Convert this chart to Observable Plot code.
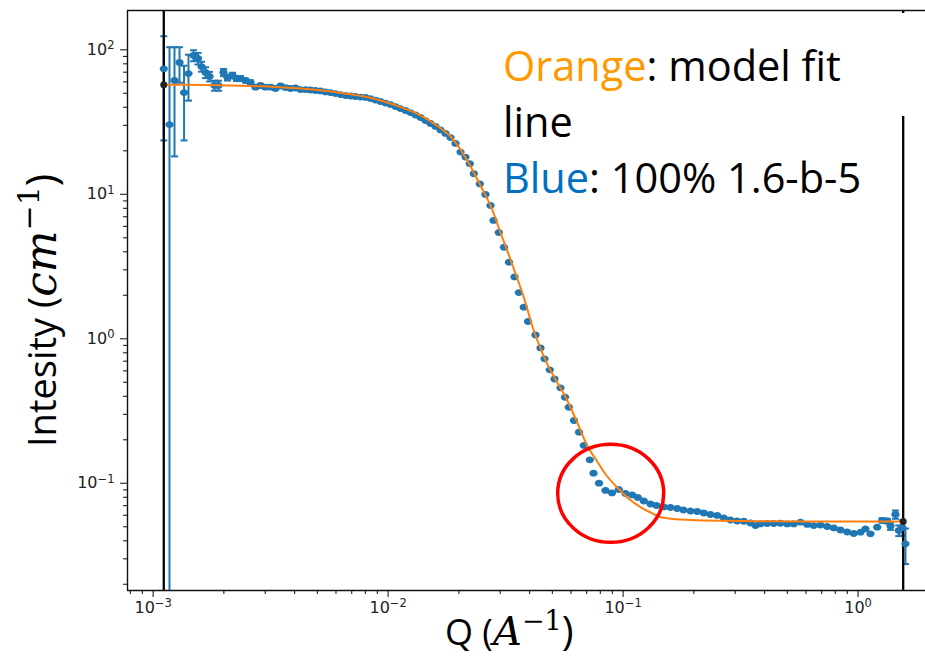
<!DOCTYPE html>
<html>
<head>
<meta charset="utf-8">
<script src="https://cdn.jsdelivr.net/npm/d3@7"></script>
<script src="https://cdn.jsdelivr.net/npm/@observablehq/plot@0.6"></script>
<style>
  body { margin: 0; background: #fff; }
  #wrap { position: relative; width: 925px; height: 656px; overflow: hidden; background: #fff; }
</style>
</head>
<body>
<div id="wrap"></div>
<script>
// ---- data ----
const q = [
  1.110e-3, 1.174e-3, 1.233e-3, 1.295e-3, 1.354e-3, 1.414e-3, 1.486e-3, 1.553e-3, 1.607e-3, 1.671e-3,
  1.738e-3, 1.825e-3, 1.898e-3, 1.993e-3, 2.073e-3, 2.177e-3, 2.265e-3, 2.355e-3, 2.473e-3, 2.597e-3,
  2.727e-3, 2.864e-3, 3.008e-3, 3.159e-3, 3.318e-3, 3.484e-3, 3.659e-3,
  3.843e-3, 4.036e-3, 4.239e-3, 4.452e-3, 4.675e-3, 4.910e-3, 5.157e-3, 5.416e-3, 5.688e-3, 5.974e-3,
  6.273e-3, 6.589e-3, 6.918e-3, 7.267e-3, 7.632e-3, 8.014e-3, 8.417e-3, 8.840e-3, 9.284e-3, 9.748e-3,
  1.024e-2, 1.075e-2, 1.129e-2, 1.186e-2, 1.245e-2, 1.308e-2, 1.374e-2, 1.442e-2, 1.515e-2, 1.591e-2,
  1.671e-2, 1.755e-2, 1.843e-2,
  1.936e-2, 2.033e-2, 2.135e-2, 2.227e-2, 2.316e-2, 2.456e-2, 2.597e-2,
  2.727e-2, 2.809e-2, 2.959e-2, 3.113e-2, 3.269e-2, 3.450e-2, 3.599e-2, 3.779e-2, 3.938e-2, 4.239e-2,
  4.452e-2, 4.629e-2, 4.876e-2, 5.107e-2, 5.416e-2, 5.660e-2, 5.874e-2, 6.181e-2, 6.493e-2, 6.807e-2,
  7.217e-2, 7.482e-2, 7.898e-2, 8.417e-2, 8.971e-2, 9.587e-2, 0.1024, 0.1093, 0.1155, 0.1225,
  0.1308, 0.1387, 0.1490, 0.1591, 0.1699, 0.1807, 0.1936, 0.2067, 0.2205, 0.2355,
  0.2514, 0.2682, 0.2864, 0.3059, 0.3263, 0.3484, 0.3659, 0.3843, 0.4104, 0.4377,
  0.4675, 0.4993, 0.5327, 0.5688, 0.6073, 0.6478, 0.6918, 0.7388, 0.7883, 0.8417,
  0.8987, 0.9587, 1.024, 1.075, 1.129, 1.206, 1.266, 1.330, 1.374, 1.442,
  1.490, 1.545, 1.591
];
const intensity = [
  73.9, 30.4, 61.3, 81.7, 50.6, 68.5, 91.3, 87.1, 76.6, 69.7,
  65.4, 56.6, 56.6, 69.7, 64.3, 66.4, 63.3, 63.3, 61.3, 59.4,
  55.1, 56.6, 55.1, 55.1, 54.0, 56.2, 54.8,
  54.0, 54.4, 53.1, 53.1, 52.7, 52.3, 51.9, 51.1, 50.6, 49.8,
  49.0, 48.3, 47.9, 47.5, 47.1, 46.8, 46.0, 44.9, 43.9, 42.8,
  41.8, 40.5, 39.2, 38.0, 36.8, 35.4, 34.0, 32.4, 30.9, 29.5,
  27.9, 26.4, 24.7,
  22.5, 19.6, 18.1, 16.3, 13.9, 11.8, 9.97,
  8.37, 6.59, 5.44, 4.30, 3.39, 2.68, 2.09, 1.654, 1.317, 1.062,
  0.864, 0.727, 0.610, 0.527, 0.458, 0.394, 0.336, 0.272, 0.2258, 0.1827,
  0.1454, 0.1174, 0.1002, 0.0892, 0.0857, 0.0906, 0.0850, 0.0830, 0.0797, 0.0754,
  0.0719, 0.0702, 0.0686, 0.0680, 0.0669, 0.0653, 0.0643, 0.0638, 0.0623, 0.0608,
  0.0599, 0.0575, 0.0557, 0.0548, 0.0546, 0.0531, 0.0510, 0.0523, 0.0527, 0.0527,
  0.0529, 0.0523, 0.0523, 0.0538, 0.0519, 0.0510, 0.0514, 0.0502, 0.0491, 0.0475,
  0.0460, 0.0449, 0.0459, 0.0484, 0.0447, 0.0497, 0.0553, 0.0548, 0.0506, 0.0608,
  0.0471, 0.0494, 0.0381
];
const err = [
  50.3, 73.8, 43, 22.5, 27, 24, 8, 8, 6, 6,
  5, 4.5, 4.5, 4, 3, 3, 2.5, 2.5, 2, 2,
  1.5, 1.5, 1.5, 1.5, 1.2, 1.2, 1.2,
  0, 0, 0, 0, 0, 0, 0, 0, 0, 0,
  0, 0, 0, 0, 0, 0, 0, 0, 0, 0,
  0, 0, 0, 0, 0, 0, 0, 0, 0, 0,
  0, 0, 0,
  0, 0, 0, 0, 0, 0, 0,
  0, 0, 0, 0, 0, 0, 0, 0, 0, 0,
  0, 0, 0, 0, 0, 0, 0, 0, 0, 0,
  0, 0, 0, 0, 0, 0, 0, 0, 0, 0,
  0, 0, 0, 0, 0, 0, 0, 0, 0, 0,
  0, 0, 0, 0, 0, 0, 0, 0, 0, 0,
  0, 0, 0, 0, 0, 0, 0, 0, 0, 0,
  0, 0, 0, 0, 0, 0, 0.002, 0.002, 0.003, 0.004,
  0.004, 0.006, 0.0105
];
const modelQ = [
  1.110e-3, 1.591e-3, 2.597e-3, 3.589e-3, 5.056e-3, 6.786e-3, 8.500e-3, 1.053e-2, 1.333e-2, 1.621e-2,
  1.843e-2, 2.033e-2, 2.242e-2, 2.473e-2, 2.727e-2, 3.008e-2, 3.212e-2, 3.484e-2, 3.779e-2, 4.169e-2,
  4.753e-2, 5.157e-2, 5.594e-2, 5.974e-2, 6.379e-2, 7.035e-2, 7.759e-2, 8.500e-2, 9.438e-2, 0.1054,
  0.1186, 0.1308, 0.1442, 0.1671, 0.1936, 0.2597, 0.3843, 0.6073, 1.556
];
const modelI = [
  57.3, 57.1, 56.2, 54.8, 52.7, 49.4, 46.4, 41.8, 36.0, 29.7,
  25.1, 20.4, 15.6, 11.5, 8.37, 5.44, 4.08, 2.83, 1.94, 1.141,
  0.671, 0.523, 0.416, 0.3346, 0.2634, 0.1827, 0.1415, 0.1132, 0.0935, 0.0785,
  0.0683, 0.0628, 0.0584, 0.0564, 0.0557, 0.0550, 0.0546, 0.0544, 0.0544
];
const qLimits = [1.110e-3, 1.556];
const xDomain = [7.78e-4, 1.936];
const yDomain = [0.01811, 187.1];
const xTicks = [1e-3, 1e-2, 1e-1, 1];
const xTickExponents = ["−3", "−2", "−1", "0"];
const yTicks = [1e-1, 1, 10, 100];
const yTickExponents = ["−1", "0", "1", "2"];
const minorMultipliers = [2, 3, 4, 5, 6, 7, 8, 9];
const decades = [1e-4, 1e-3, 1e-2, 1e-1, 1, 10, 100];
const circled = { q: 0.0890, intensity: 0.0846 };

// ---- derived tables ----
const blue = "#1f77b4", orange = "#ff7f0e";
const points = q.map((d, i) => ({ q: d, I: intensity[i], e: err[i] }));
const bars = points.filter(d => d.e > 0).map(d => ({
  q: d.q, hi: d.I + d.e,
  lo: d.I - d.e > yDomain[0] ? d.I - d.e : yDomain[0],
  cap: d.I - d.e > yDomain[0]
}));
const model = modelQ.map((d, i) => ({ q: d, I: modelI[i] }));
const modelEnds = [model[0], model[model.length - 1]];
const minor = (dom) => decades.flatMap(d => minorMultipliers.map(m => d * m)).filter(v => v > dom[0] && v < dom[1]);
const xLabel = new Map(xTicks.map((t, i) => [t, "10^" + xTickExponents[i]]));
const yLabel = new Map(yTicks.map((t, i) => [t, "10^" + yTickExponents[i]]));

const K = 0.5523;
const ellipseSymbol = { draw(ctx, size) {
  const r = Math.sqrt(size / Math.PI), a = r * 1.12, b = r * 0.92;
  ctx.moveTo(a, 0);
  ctx.bezierCurveTo(a, b * K, a * K, b, 0, b);
  ctx.bezierCurveTo(-a * K, b, -a, b * K, -a, 0);
  ctx.bezierCurveTo(-a, -b * K, -a * K, -b, 0, -b);
  ctx.bezierCurveTo(a * K, -b, a, -b * K, a, 0);
  ctx.closePath();
}};
const capSymbol = { draw(ctx, size) {
  const r = Math.sqrt(size / Math.PI);
  ctx.moveTo(-r, 0); ctx.lineTo(r, 0);
}};

const chart = Plot.plot({
  width: 925, height: 656,
  marginLeft: 127, marginRight: 0, marginTop: 10, marginBottom: 66,
  x: { type: "log", domain: xDomain, axis: null, label: null },
  y: { type: "log", domain: yDomain, axis: null, label: null },
  style: { fontFamily: "DejaVu Sans", fontSize: "16px", background: "white", overflow: "visible" },
  marks: [
    Plot.axisX(minor(xDomain), { tickSize: 4, tickFormat: () => "", color: "#222", strokeWidth: 1.1, label: null }),
    Plot.axisX(xTicks, { tickSize: 7, tickPadding: 4, tickFormat: d => xLabel.get(d), color: "#222", strokeWidth: 1.1, fontSize: 16, label: null }),
    Plot.axisY(minor(yDomain), { tickSize: 4, tickFormat: () => "", color: "#222", strokeWidth: 1.1, label: null }),
    Plot.axisY(yTicks, { tickSize: 7, tickPadding: 6, tickFormat: d => yLabel.get(d), color: "#222", strokeWidth: 1.1, fontSize: 16, label: null }),
    Plot.ruleX(bars, { x: "q", y1: "lo", y2: "hi", stroke: blue, strokeWidth: 2 }),
    Plot.dot(bars, { x: "q", y: "hi", symbol: capSymbol, r: 3.5, stroke: blue, strokeWidth: 2 }),
    Plot.dot(bars.filter(d => d.cap), { x: "q", y: "lo", symbol: capSymbol, r: 3.5, stroke: blue, strokeWidth: 2 }),
    Plot.ruleX(qLimits, { stroke: "#000", strokeWidth: 2.3 }),
    Plot.dot(points, { x: "q", y: "I", r: 3.7, fill: blue, symbol: ellipseSymbol }),
    Plot.line(model, { x: "q", y: "I", stroke: orange, strokeWidth: 2, curve: "catmull-rom" }),
    Plot.dot(modelEnds, { x: "q", y: "I", r: 3.5, fill: "#222" }),
    Plot.ruleY([yDomain[0]], { stroke: "#111", strokeWidth: 1.4 }),
    Plot.ruleY([yDomain[1]], { stroke: "#111", strokeWidth: 1.4 }),
    Plot.ruleX([xDomain[0]], { stroke: "#111", strokeWidth: 1.4 })
  ]
});
document.getElementById("wrap").appendChild(chart);

// tick labels "10^e" -> "10" + superscript exponent (mathtext-like)
d3.select(chart).selectAll("text").each(function () {
  const t = this.textContent;
  if (!t.startsWith("10^")) return;
  const sel = d3.select(this);
  sel.text(null);
  sel.append("tspan").text("10");
  sel.append("tspan").attr("font-size", 11.5).attr("dy", "-0.5em").text(t.slice(3));
});

// ---- annotations (slide overlay) ----
const svg = d3.select(chart);
const sx = chart.scale("x"), sy = chart.scale("y");
svg.append("ellipse")
  .attr("cx", sx.apply(circled.q)).attr("cy", sy.apply(circled.intensity))
  .attr("rx", 53).attr("ry", 49)
  .attr("fill", "none").attr("stroke", "#ff0000").attr("stroke-width", 3.5);

svg.append("rect").attr("x", 448).attr("y", 13).attr("width", 477).attr("height", 103).attr("fill", "#fff");

const legend = svg.append("g").attr("font-family", "'Open Sans', sans-serif").attr("font-size", 41.5)
  .attr("fill", "#000").attr("text-anchor", "start");
const l1 = legend.append("text").attr("x", 503).attr("y", 81);
l1.append("tspan").attr("fill", "#ff9900").text("Orange");
l1.append("tspan").text(": model fit");
legend.append("text").attr("x", 503).attr("y", 137).text("line");
const l3 = legend.append("text").attr("x", 503).attr("y", 193);
l3.append("tspan").attr("fill", "#0070c0").text("Blue");
l3.append("tspan").text(": 100% 1.6-b-5");

const math = "'DejaVu Serif', serif";
const yt = svg.append("text").attr("transform", "translate(56,447) rotate(-90)").attr("text-anchor", "start")
  .attr("font-family", "'Open Sans', sans-serif").attr("font-size", 38).attr("fill", "#000");
yt.append("tspan").text("Intesity (");
yt.append("tspan").attr("font-family", math).attr("font-style", "italic").attr("font-size", 44).text("cm");
yt.append("tspan").attr("font-family", math).attr("font-size", 30).attr("dy", -17).text("−1");
yt.append("tspan").attr("dy", 17).attr("font-size", 42).text(")");

const xt = svg.append("text").attr("x", 445).attr("y", 645).attr("text-anchor", "start")
  .attr("font-family", "'Open Sans', sans-serif").attr("font-size", 36).attr("fill", "#000");
xt.append("tspan").text("Q (");
xt.append("tspan").attr("font-family", math).attr("font-style", "italic").attr("font-size", 40).text("A");
xt.append("tspan").attr("font-family", math).attr("font-size", 27).attr("dy", -15).text("−1");
xt.append("tspan").attr("dy", 15).attr("font-size", 40).text(")");
</script>
</body>
</html>
